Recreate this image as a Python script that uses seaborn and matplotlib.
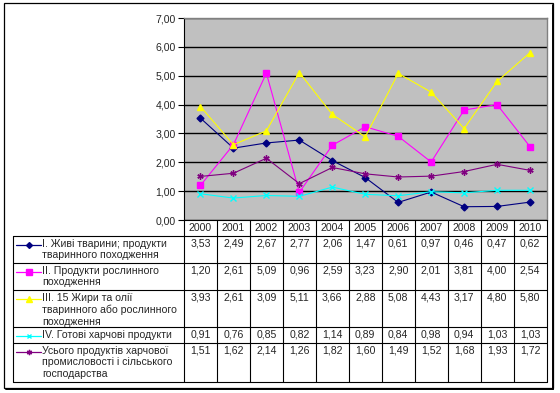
import numpy as np
import pandas as pd
import matplotlib
matplotlib.use('Agg')
import matplotlib.pyplot as plt
from matplotlib.lines import Line2D
from matplotlib.patches import Rectangle
import seaborn as sns

years = ['2000', '2001', '2002', '2003', '2004', '2005', '2006', '2007', '2008', '2009', '2010']
names = [
    'І. Живі тварини; продукти\nтваринного походження',
    'ІІ. Продукти рослинного\nпоходження',
    'ІІІ. 15 Жири та олії\nтваринного або рослинного\nпоходження',
    'ІV. Готові харчові продукти',
    'Усього продуктів харчової\nпромисловості і сільського\nгосподарства',
]
s1 = [3.53, 2.49, 2.67, 2.77, 2.06, 1.47, 0.61, 0.97, 0.46, 0.47, 0.62]
s2 = [1.20, 2.61, 5.09, 0.96, 2.59, 3.23, 2.90, 2.01, 3.81, 4.00, 2.54]
s3 = [3.93, 2.61, 3.09, 5.11, 3.66, 2.88, 5.08, 4.43, 3.17, 4.80, 5.80]
s4 = [0.91, 0.76, 0.85, 0.82, 1.14, 0.89, 0.84, 0.98, 0.94, 1.03, 1.03]
s5 = [1.51, 1.62, 2.14, 1.26, 1.82, 1.60, 1.49, 1.52, 1.68, 1.93, 1.72]
series = [s1, s2, s3, s4, s5]

colors = ['#000080', '#FF00FF', '#FFFF00', '#00FFFF', '#800080']
markers = ['D', 's', '^', 'x', (6, 2, 0)]
msizes = [3.5, 4.5, 5, 4, 4.5]

sns.set_style('white')
plt.rcParams['font.family'] = ['Liberation Sans', 'DejaVu Sans']
FS = 7.6

W, H = 560, 393
fig = plt.figure(figsize=(W / 100, H / 100), dpi=100)

def fx(x):
    return x / W

def fy(y):
    return 1 - y / H

# plot area in pixels
L, R, T, B = 184, 546.5, 18, 220
ax = fig.add_axes([fx(L), fy(B), fx(R) - fx(L), fy(T) - fy(B)])
ax.set_facecolor('#C0C0C0')

df = pd.DataFrame({'year': years * 5,
                   'value': sum(series, []),
                   'name': np.repeat(names, len(years))})
for i, nm in enumerate(names):
    sub = df[df['name'] == nm]
    sns.lineplot(data=sub, x='year', y='value', ax=ax, color=colors[i], lw=0.8,
                 marker=markers[i], markersize=msizes[i], markeredgecolor=colors[i],
                 markerfacecolor=colors[i], markeredgewidth=1, legend=False, zorder=3)

ax.set_xlim(-0.5, 10.5)
ax.set_ylim(0, 7)
ax.set_yticks(range(0, 8))
ax.set_yticklabels(['%d,00' % v for v in range(0, 8)], fontsize=FS)
ax.yaxis.grid(True, color='black', lw=1)
ax.set_axisbelow(True)
ax.set_xticks([])
ax.set_xlabel('')
ax.set_ylabel('')
ax.tick_params(axis='y', direction='out', length=4, width=0.8, color='black', pad=2, left=True)
for sp in ['top', 'right']:
    ax.spines[sp].set_color('#808080')
    ax.spines[sp].set_linewidth(1)
ax.spines['left'].set_color('black')
ax.spines['left'].set_linewidth(0.8)
ax.spines['bottom'].set_visible(False)

# outer frame
fig.add_artist(Rectangle((fx(4), fy(388)), fx(549), fy(3) - fy(388), fill=False,
                         edgecolor='black', lw=0.9, transform=fig.transFigure))
fig.add_artist(Line2D([fx(553), fx(553)], [fy(5), fy(389)], color='black', lw=1.4))
fig.add_artist(Line2D([fx(6), fx(553)], [fy(389), fy(389)], color='black', lw=1.4))

def hline(x0, x1, y):
    fig.add_artist(Line2D([fx(x0), fx(x1)], [fy(y), fy(y)], color='black', lw=0.8))

def vline(x, y0, y1):
    fig.add_artist(Line2D([fx(x), fx(x)], [fy(y0), fy(y1)], color='black', lw=0.8))

# data table
col_w = (R - L) / len(years)
row_edges = [236, 263, 290, 327, 343, 382]
tbl_left = 13
hline(L, R, B)
for y in row_edges:
    hline(tbl_left, R, y)
vline(tbl_left, row_edges[0], row_edges[-1])
for k in range(len(years) + 1):
    vline(L + k * col_w, B, row_edges[-1])

for k, yr in enumerate(years):
    fig.text(fx(L + (k + 0.5) * col_w), fy(228.5), yr, fontsize=FS,
             ha='center', va='center')

for i, nm in enumerate(names):
    top = row_edges[i]
    fig.text(fx(42), fy(top + 2.8), nm, fontsize=FS, ha='left', va='top',
             linespacing=1.2)
    ys = top + 9
    fig.add_artist(Line2D([fx(16), fx(41)], [fy(ys), fy(ys)], color=colors[i], lw=0.9))
    fig.add_artist(Line2D([fx(28.5)], [fy(ys)], color=colors[i], marker=markers[i],
                          markersize=msizes[i] * 0.85, markerfacecolor=colors[i],
                          markeredgecolor=colors[i], lw=0))
    for k, v in enumerate(series[i]):
        fig.text(fx(L + (k + 0.5) * col_w), fy(top + 2.8), ('%.2f' % v).replace('.', ','),
                 fontsize=FS, ha='center', va='top')

fig.savefig('out.png', dpi=100)
